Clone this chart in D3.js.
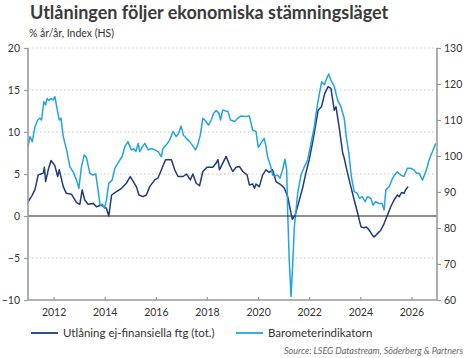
<!DOCTYPE html>
<html><head><meta charset="utf-8">
<script src="https://cdn.jsdelivr.net/npm/d3@7"></script>
<style>
html,body{margin:0;padding:0;background:#fff;}
svg{display:block;font-family:Lato,"Open Sans",sans-serif;}
</style></head><body>
<svg id="chart" width="467" height="358"></svg>
<script>
const title = "Utlåningen följer ekonomiska stämningsläget";
const subtitle = "% år/år, Index (HS)";
const seriesNames = ["Utlåning ej-finansiella ftg (tot.)", "Barometerindikatorn"];
const source = "Source: LSEG Datastream, Söderberg & Partners";
const xTicks = [2012, 2014, 2016, 2018, 2020, 2022, 2024, 2026];
const leftTicks = [20, 15, 10, 5, 0, -5, -10];
const rightTicks = [130, 120, 110, 100, 90, 80, 70, 60];

const lendYears = [2011.0,2011.15,2011.27,2011.4,2011.5,2011.6,2011.64,2011.69,2011.8,2011.9,2012.05,2012.16,2012.22,2012.38,2012.5,2012.7,2012.9,2013.03,2013.12,2013.22,2013.35,2013.55,2013.68,2013.88,2014.07,2014.16,2014.27,2014.46,2014.66,2014.85,2015.0,2015.24,2015.34,2015.5,2015.63,2015.76,2015.96,2016.08,2016.22,2016.38,2016.61,2016.74,2016.87,2017.07,2017.2,2017.35,2017.45,2017.58,2017.71,2017.84,2018.0,2018.23,2018.36,2018.43,2018.49,2018.62,2018.75,2018.88,2019.01,2019.14,2019.27,2019.4,2019.57,2019.66,2019.79,2019.86,2019.92,2020.05,2020.18,2020.31,2020.44,2020.57,2020.7,2020.9,2021.03,2021.16,2021.25,2021.34,2021.45,2021.58,2021.74,2021.87,2022.0,2022.13,2022.26,2022.35,2022.48,2022.61,2022.74,2022.85,2022.91,2022.98,2023.05,2023.18,2023.31,2023.37,2023.5,2023.63,2023.76,2023.9,2023.96,2024.03,2024.15,2024.24,2024.35,2024.48,2024.54,2024.67,2024.8,2024.93,2025.06,2025.19,2025.32,2025.45,2025.52,2025.62,2025.71,2025.77,2025.87];
const lendValues = [1.7,2.4,3.1,4.9,5.0,5.1,5.8,4.1,5.6,6.6,6.0,4.7,5.5,3.5,2.7,2.6,1.6,1.4,3.1,1.9,1.4,1.5,1.1,1.3,0.9,0.0,2.5,2.9,3.3,3.9,4.7,3.5,2.5,2.3,2.5,3.5,4.3,4.5,5.5,6.7,6.7,5.5,4.7,4.7,5.0,4.3,5.0,3.9,3.6,5.3,5.8,5.8,6.3,6.7,5.5,6.3,7.1,6.1,5.3,5.8,5.9,5.3,4.9,3.7,3.8,3.3,3.8,3.5,4.9,5.5,5.2,5.5,4.1,3.7,3.3,2.3,0.9,-0.4,0.1,1.5,3.3,5.1,6.7,8.7,11.0,12.6,13.0,14.6,15.4,15.2,14.0,12.6,13.0,10.4,7.5,6.9,5.1,3.5,1.9,0.3,-0.5,-1.3,-1.4,-1.3,-1.7,-2.3,-2.5,-2.1,-1.7,-0.9,0.1,1.1,1.9,2.5,2.3,2.8,2.7,3.1,3.5];

const baroYears = [2011.0,2011.08,2011.17,2011.27,2011.38,2011.47,2011.53,2011.62,2011.69,2011.75,2011.82,2011.9,2011.99,2012.05,2012.16,2012.22,2012.29,2012.38,2012.51,2012.64,2012.77,2012.9,2012.99,2013.09,2013.2,2013.29,2013.42,2013.53,2013.65,2013.74,2013.82,2013.91,2013.99,2014.07,2014.16,2014.29,2014.4,2014.55,2014.68,2014.79,2014.91,2015.04,2015.14,2015.22,2015.31,2015.37,2015.48,2015.57,2015.7,2015.83,2015.96,2016.09,2016.22,2016.28,2016.41,2016.54,2016.67,2016.8,2016.89,2016.99,2017.08,2017.19,2017.32,2017.42,2017.55,2017.64,2017.74,2017.84,2017.94,2018.06,2018.17,2018.26,2018.36,2018.47,2018.53,2018.62,2018.75,2018.82,2018.92,2019.08,2019.21,2019.33,2019.53,2019.66,2019.79,2019.92,2020.01,2020.11,2020.24,2020.31,2020.37,2020.48,2020.57,2020.66,2020.77,2020.86,2020.96,2021.05,2021.12,2021.16,2021.22,2021.29,2021.35,2021.42,2021.55,2021.68,2021.81,2021.94,2022.07,2022.2,2022.29,2022.4,2022.49,2022.6,2022.66,2022.76,2022.85,2022.98,2023.11,2023.24,2023.37,2023.45,2023.55,2023.65,2023.76,2023.86,2023.97,2024.07,2024.19,2024.28,2024.41,2024.5,2024.6,2024.73,2024.85,2024.93,2025.0,2025.13,2025.26,2025.39,2025.45,2025.58,2025.71,2025.84,2025.97,2026.1,2026.2,2026.3,2026.43,2026.56,2026.69,2026.82,2026.95];
const baroValues = [102.6,105.4,104.0,108.1,110.0,110.5,110.0,115.1,114.2,116.0,115.4,116.0,115.6,116.5,112.3,110.0,110.5,105.4,101.7,97.0,95.6,93.3,91.0,97.0,100.3,99.5,95.2,94.7,95.0,90.6,86.4,86.6,85.5,87.8,92.4,93.3,96.6,98.4,99.8,102.6,104.0,101.7,102.0,101.2,103.5,101.2,102.6,103.5,101.7,102.1,101.7,101.2,99.8,102.1,103.1,104.4,106.8,105.4,106.3,108.3,105.8,104.9,104.0,103.1,101.7,103.1,105.8,110.5,109.8,108.6,110.0,111.9,112.6,111.9,110.0,112.8,112.4,112.4,110.0,109.6,110.5,111.1,111.0,111.1,107.2,106.8,102.4,103.5,104.9,102.6,99.8,97.5,94.7,94.4,94.7,93.8,96.1,99.1,96.1,84.1,71.1,61.0,69.3,80.4,89.6,94.7,97.0,98.9,103.5,108.1,112.8,117.4,120.6,119.8,121.1,122.8,121.1,119.3,115.6,113.7,110.5,105.4,100.8,94.3,90.1,89.8,88.2,88.7,87.3,88.7,88.2,86.4,87.3,86.8,86.8,85.0,90.6,91.5,93.8,95.2,95.6,94.7,94.3,96.6,96.6,96.1,95.2,95.2,93.3,95.6,98.9,101.2,103.5];

const colors = ["#1f3b7e", "#21a3e4"];

const svg = d3.select("#chart");
const L = 28, R = 437, T = 48, B = 300;
const x = d3.scaleLinear().domain([2011, 2027]).range([L, R]);
const yL = d3.scaleLinear().domain([-10, 20]).range([B, T]);
const yR = d3.scaleLinear().domain([60, 130]).range([B, T]);

// title
svg.append("text").attr("x", 30).attr("y", 19).attr("font-size", 18).attr("font-weight", 700)
  .attr("fill", "#3a3a3a").text(title);
svg.append("text").attr("x", 29).attr("y", 37).attr("font-size", 10.5).attr("fill", "#333").text(subtitle);

// grid
const grid = svg.append("g");
leftTicks.filter(d => d !== 0 && d !== -10).forEach(d => {
  grid.append("line").attr("x1", L).attr("x2", R).attr("y1", yL(d)).attr("y2", yL(d))
    .attr("stroke", "#c8c8c8").attr("stroke-width", 1).attr("stroke-dasharray", "1.5,2.5");
});

// lines
const lendData = lendYears.map((t, i) => [t, lendValues[i]]);
const baroData = baroYears.map((t, i) => [t, baroValues[i]]);
svg.append("path").datum(lendData).attr("fill", "none").attr("stroke", colors[0]).attr("stroke-width", 1.5)
  .attr("stroke-linejoin", "round")
  .attr("d", d3.line().x(d => x(d[0])).y(d => yL(d[1])));
svg.append("path").datum(baroData).attr("fill", "none").attr("stroke", colors[1]).attr("stroke-width", 1.5)
  .attr("stroke-linejoin", "round")
  .attr("d", d3.line().x(d => x(d[0])).y(d => yR(d[1])));

// zero line
svg.append("line").attr("x1", L).attr("x2", R).attr("y1", yL(0)).attr("y2", yL(0))
  .attr("stroke", "#222").attr("stroke-width", 1.2);

// axes
const axisColor = "#9a9a9a";
const gl = svg.append("g").attr("transform", `translate(${L},0)`)
  .call(d3.axisLeft(yL).tickValues(leftTicks).tickSize(4).tickPadding(4).tickFormat(d3.format("d")));
const gr = svg.append("g").attr("transform", `translate(${R},0)`)
  .call(d3.axisRight(yR).tickValues(rightTicks).tickSize(4).tickPadding(3).tickFormat(d3.format("d")));
const gb = svg.append("g").attr("transform", `translate(0,${B})`)
  .call(d3.axisBottom(x).tickValues(xTicks).tickSize(-3).tickPadding(9).tickFormat(d3.format("d")));
[gl, gr, gb].forEach(g => {
  g.select(".domain").attr("stroke", axisColor).attr("stroke-width", 1.6);
  g.selectAll(".tick line").attr("stroke", axisColor).attr("stroke-width", 1.2);
  g.selectAll(".tick text").attr("fill", "#333").attr("font-size", 10.5).attr("font-family", "Lato, sans-serif");
});
gl.select(".domain").attr("d", `M0,${T}V${B}`);
gr.select(".domain").attr("d", `M0,${T}V${B}`);
gb.select(".domain").attr("d", `M${L},0H${R}`);

// legend
const legend = svg.append("g");
[[31, 63], [236, 268]].forEach((p, i) => {
  legend.append("line").attr("x1", p[0]).attr("x2", p[0] + 27).attr("y1", 333).attr("y2", 333)
    .attr("stroke", colors[i]).attr("stroke-width", 1.8);
  legend.append("text").attr("x", p[1]).attr("y", 337).attr("font-size", 11.5).attr("fill", "#333").text(seriesNames[i]);
});

svg.append("text").attr("x", 463).attr("y", 354).attr("text-anchor", "end").attr("font-size", 9)
  .attr("font-style", "italic").attr("fill", "#666").text(source);
</script>
</body></html>
